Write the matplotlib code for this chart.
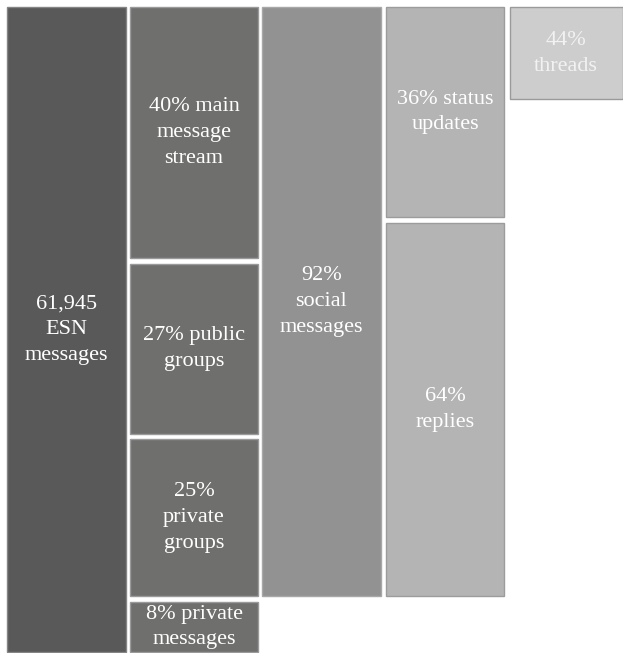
import matplotlib
matplotlib.use("Agg")
import matplotlib.pyplot as plt
from matplotlib.patches import Rectangle

# ---- data ----
total_messages = 61945
total_label = "61,945\nESN\nmessages"
channel_pcts = [40, 27, 25, 8]
channel_labels = ["40% main\nmessage\nstream", "27% public\ngroups",
                  "25%\nprivate\ngroups", "8% private\nmessages"]
social_pct = 92
social_label = "92%\nsocial\nmessages"
social_split_pcts = [36, 64]
social_split_labels = ["36% status\nupdates", "64%\nreplies"]
thread_pct = 44
thread_label = "44%\nthreads"

# ---- style / layout ----
W, H = 623, 653
top, bottom, gap = 7.0, 652.0, 5.5
cols_x = [(7, 126), (130, 258), (262, 381), (386, 504), (510, 622.5)]
fills = ["#595959", "#6f6f6d", "#929292", "#b4b4b4", "#cdcdcd"]
edges = ["#858585", "#9a9a9a", "#a8a8a8", "#9c9c9c", "#9a9a9a"]
text_colors = ["white", "white", "white", "white", "#f2f2f2"]
font = dict(family=["Liberation Serif", "DejaVu Serif"], fontsize=16,
            linespacing=1.48, ha="center", va="center")

fig = plt.figure(figsize=(W / 100, H / 100), dpi=100)
ax = fig.add_axes([0, 0, 1, 1])
ax.set_xlim(0, W)
ax.set_ylim(H, 0)
ax.axis("off")


def box(ci, y0, h, label):
    x0, x1 = cols_x[ci]
    ax.add_patch(Rectangle((x0, y0), x1 - x0, h, facecolor=fills[ci],
                           edgecolor=edges[ci], linewidth=1.0))
    ax.text((x0 + x1) / 2, y0 + h / 2, label, color=text_colors[ci], **font)


# column 1: all messages
box(0, top, bottom - top, total_label)

# column 2: channels
unit = (bottom - top - gap * (len(channel_pcts) - 1)) / sum(channel_pcts)
y = top
for p, lab in zip(channel_pcts, channel_labels):
    h = p * unit
    box(1, y, h, lab)
    y += h + gap

# column 3: social messages (spans first three channel boxes)
social_h = social_pct * unit + gap * 2
box(2, top, social_h, social_label)

# column 4: status updates / replies
avail = social_h - gap * (len(social_split_pcts) - 1)
y = top
split_h = []
for p, lab in zip(social_split_pcts, social_split_labels):
    h = p / 100 * avail
    split_h.append(h)
    box(3, y, h, lab)
    y += h + gap

# column 5: threads
box(4, top, thread_pct / 100 * split_h[0], thread_label)

fig.savefig("out.png", dpi=100)
